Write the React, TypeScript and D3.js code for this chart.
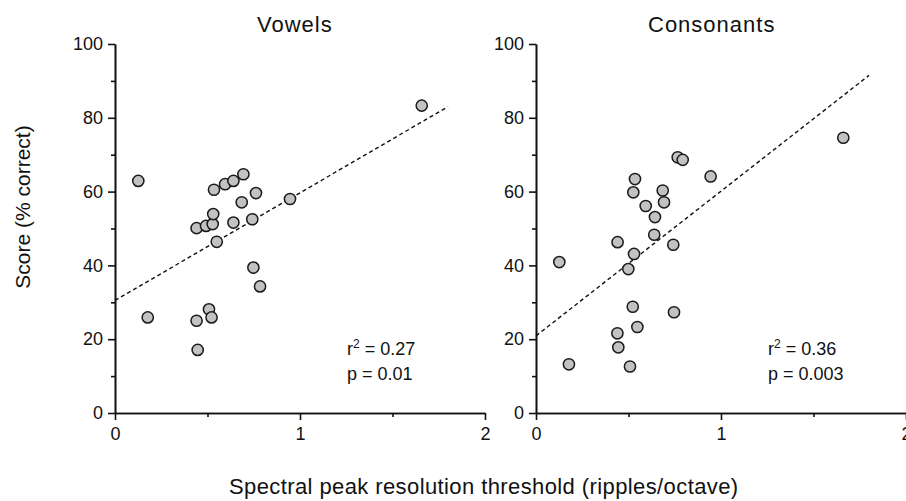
import React, { useEffect, useRef } from 'react';
import * as d3 from 'd3';

// threshold (ripples/octave) and score (% correct)
const vowelX = [0.126, 0.177, 0.441, 0.441, 0.447, 0.492, 0.508, 0.522, 0.528, 0.531, 0.535, 0.55, 0.595, 0.64, 0.64, 0.685, 0.694, 0.742, 0.748, 0.762, 0.784, 0.946, 1.658];
const vowelY = [62.9, 25.9, 50.1, 25.0, 17.1, 50.7, 28.1, 25.9, 51.2, 53.9, 60.5, 46.4, 62.0, 62.9, 51.6, 57.1, 64.7, 52.5, 39.4, 59.6, 34.3, 58.0, 83.3];

const consonantX = [0.126, 0.178, 0.44, 0.441, 0.445, 0.499, 0.508, 0.523, 0.526, 0.53, 0.535, 0.548, 0.593, 0.639, 0.643, 0.685, 0.692, 0.742, 0.746, 0.766, 0.793, 0.944, 1.661];
const consonantY = [40.9, 13.2, 21.6, 46.3, 17.8, 39.0, 12.6, 28.8, 59.8, 43.1, 63.4, 23.3, 56.1, 48.3, 53.1, 60.3, 57.1, 45.6, 27.3, 69.3, 68.6, 64.1, 74.6];

// regression lines (endpoints)
const fitX = [0, 1.8];
const vowelFit = [30.5, 83.0];
const consonantFit = [20.9, 91.5];

const panels = [
  { title: 'Vowels', xs: vowelX, ys: vowelY, fit: vowelFit, r2: '0.27', p: '0.01', left: 115, titleX: 257, statX: 347 },
  { title: 'Consonants', xs: consonantX, ys: consonantY, fit: consonantFit, r2: '0.36', p: '0.003', left: 536, titleX: 648, statX: 768 },
];

const yMajor = [0, 20, 40, 60, 80, 100];
const yMinor = [10, 30, 50, 70, 90];
const xMajor = [0, 1, 2];
const xMinor = [0.5, 1.5];

const FONT = '"Liberation Sans", Arial, Helvetica, sans-serif';

const App = () => {
  const svgRef = useRef<SVGSVGElement>(null);
  const width = 906;
  const height = 501;

  useEffect(() => {
    const svg = d3.select(svgRef.current);
    svg.selectAll('*').remove();
    svg.attr('width', width).attr('height', height).style('font-family', FONT);

    const yScale = d3.scaleLinear().domain([0, 100]).range([413, 44]);

    panels.forEach(pn => {
      const xScale = d3.scaleLinear().domain([0, 2]).range([pn.left, pn.left + 370]);
      const g = svg.append('g');

      // y axis
      g.append('g')
        .attr('transform', `translate(${pn.left},0)`)
        .call(d3.axisLeft(yScale).tickValues(yMinor).tickSize(4).tickSizeOuter(0).tickFormat(() => ''));
      const yAx = g.append('g')
        .attr('transform', `translate(${pn.left},0)`)
        .call(d3.axisLeft(yScale).tickValues(yMajor).tickSize(7).tickSizeOuter(0).tickPadding(5).tickFormat(d3.format('d')));

      // x axis
      g.append('g')
        .attr('transform', `translate(0,413)`)
        .call(d3.axisBottom(xScale).tickValues(xMinor).tickSize(4).tickSizeOuter(0).tickFormat(() => ''));
      const xAx = g.append('g')
        .attr('transform', `translate(0,413)`)
        .call(d3.axisBottom(xScale).tickValues(xMajor).tickSize(7).tickSizeOuter(0).tickPadding(7).tickFormat(d3.format('d')));

      g.selectAll('.domain, .tick line').attr('stroke', '#111').attr('stroke-width', 1.6);
      [yAx, xAx].forEach(a => a.selectAll('text').attr('font-size', 18).attr('fill', '#111').style('font-family', FONT));

      // regression line
      const line = d3.line<number>()
        .x((d, i) => xScale(fitX[i]))
        .y(d => yScale(d));
      g.append('path')
        .attr('d', line(pn.fit))
        .attr('fill', 'none')
        .attr('stroke', '#111')
        .attr('stroke-width', 1.4)
        .attr('stroke-dasharray', '4,3');

      // points
      g.selectAll('circle.pt')
        .data(pn.xs.map((x, i) => [x, pn.ys[i]]))
        .enter()
        .append('circle')
        .attr('class', 'pt')
        .attr('cx', d => xScale(d[0]))
        .attr('cy', d => yScale(d[1]))
        .attr('r', 5.6)
        .attr('fill', '#c2c2c2')
        .attr('stroke', '#1a1a1a')
        .attr('stroke-width', 1.5);

      // title
      g.append('text')
        .attr('x', pn.titleX)
        .attr('y', 32)
        .attr('font-size', 22)
        .attr('letter-spacing', 1)
        .attr('fill', '#111')
        .text(pn.title);

      // stats
      const r2 = g.append('text')
        .attr('x', pn.statX)
        .attr('y', 355)
        .attr('font-size', 18)
        .attr('fill', '#111');
      r2.append('tspan').text('r');
      r2.append('tspan').attr('font-size', 12).attr('dy', -7).text('2');
      r2.append('tspan').attr('dy', 7).text(` = ${pn.r2}`);

      g.append('text')
        .attr('x', pn.statX)
        .attr('y', 380)
        .attr('font-size', 18)
        .attr('fill', '#111')
        .text(`p = ${pn.p}`);
    });

    // axis titles
    svg.append('text')
      .attr('transform', 'translate(30,207) rotate(-90)')
      .attr('text-anchor', 'middle')
      .attr('font-size', 21)
      .attr('fill', '#111')
      .text('Score (% correct)');

    svg.append('text')
      .attr('x', 229)
      .attr('y', 494)
      .attr('font-size', 22)
      .attr('letter-spacing', 0.4)
      .attr('fill', '#111')
      .text('Spectral peak resolution threshold (ripples/octave)');
  }, []);

  return (
    <div style={{ position: 'absolute', left: 0, top: 0, width, height, overflow: 'hidden', background: '#fff' }}>
      <svg ref={svgRef} style={{ display: 'block' }}></svg>
    </div>
  );
};

export default App;
